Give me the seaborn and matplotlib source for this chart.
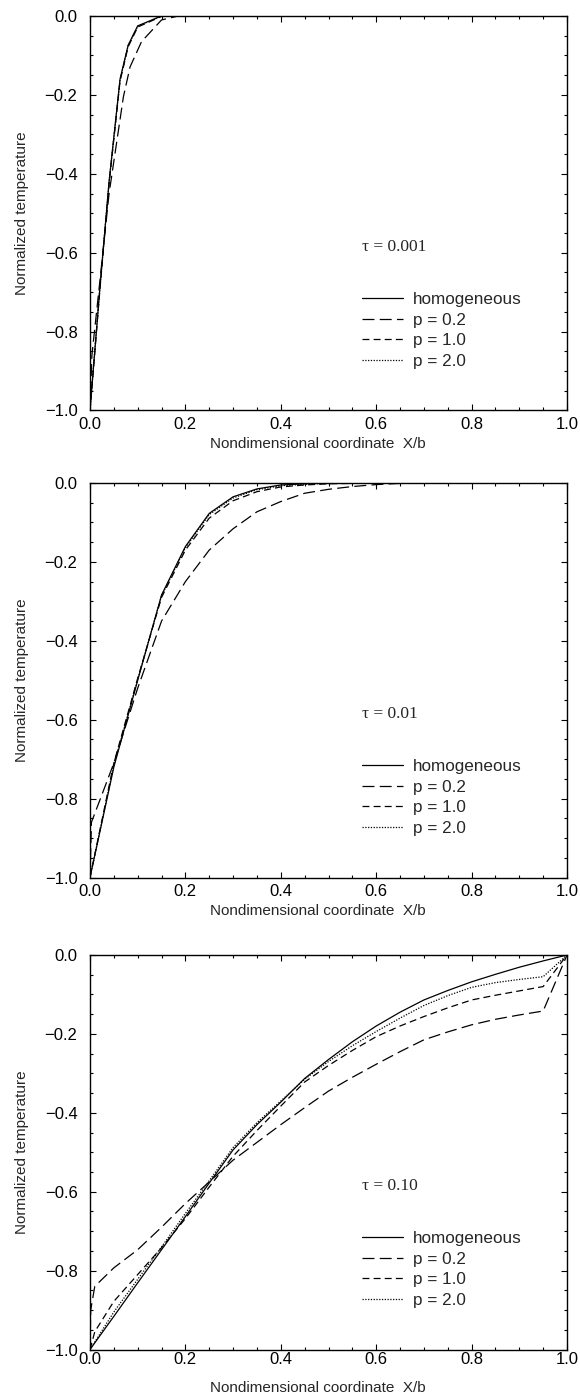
import matplotlib
matplotlib.use("Agg")
import matplotlib.pyplot as plt
import seaborn as sns
import numpy as np
from matplotlib.ticker import MultipleLocator, FuncFormatter

# ---------------- data ----------------
series_labels = ["homogeneous", "p = 0.2", "p = 1.0", "p = 2.0"]
tau_labels = ["\u03c4 = 0.001", "\u03c4 = 0.01", "\u03c4 = 0.10"]

# Panel 1: tau = 0.001
p1_hom_x = [0.0, 0.02, 0.04, 0.063, 0.08, 0.10, 0.15, 0.2, 1.0]
p1_hom_y = [-1.0, -0.70, -0.42, -0.16, -0.074, -0.025, 0.0, 0.0, 0.0]
p1_p02_x = [0.0, 0.004, 0.02, 0.04, 0.07, 0.084, 0.108, 0.15, 0.185, 1.0]
p1_p02_y = [-1.0, -0.86, -0.68, -0.45, -0.205, -0.129, -0.065, -0.010, 0.0, 0.0]
p1_p10_x = [0.0, 0.02, 0.04, 0.063, 0.08, 0.10, 0.15, 0.2, 1.0]
p1_p10_y = [-1.0, -0.705, -0.425, -0.165, -0.078, -0.028, -0.001, 0.0, 0.0]
p1_p20_x = [0.0, 0.02, 0.04, 0.063, 0.08, 0.10, 0.15, 0.2, 1.0]
p1_p20_y = [-1.0, -0.70, -0.42, -0.162, -0.075, -0.026, 0.0, 0.0, 0.0]

# Panel 2: tau = 0.01
p2_hom_x = [0.0, 0.05, 0.10, 0.15, 0.20, 0.25, 0.30, 0.35, 0.40, 0.45, 0.50, 0.60, 1.0]
p2_hom_y = [-1.0, -0.72, -0.50, -0.284, -0.161, -0.077, -0.035, -0.015, -0.005, -0.002, 0.0, 0.0, 0.0]
p2_p02_x = [0.0, 0.003, 0.025, 0.05, 0.10, 0.15, 0.20, 0.25, 0.30, 0.35, 0.40, 0.45, 0.50, 0.55, 0.60, 0.65, 0.70, 1.0]
p2_p02_y = [-1.0, -0.86, -0.79, -0.71, -0.52, -0.35, -0.25, -0.17, -0.116, -0.073, -0.047, -0.026, -0.016, -0.009, -0.004, -0.001, 0.0, 0.0]
p2_p10_x = [0.0, 0.05, 0.10, 0.15, 0.20, 0.25, 0.30, 0.35, 0.40, 0.45, 0.50, 0.60, 1.0]
p2_p10_y = [-1.0, -0.71, -0.495, -0.29, -0.170, -0.089, -0.045, -0.022, -0.010, -0.005, -0.002, 0.0, 0.0]
p2_p20_x = [0.0, 0.05, 0.10, 0.15, 0.20, 0.25, 0.30, 0.35, 0.40, 0.45, 0.50, 0.60, 1.0]
p2_p20_y = [-1.0, -0.715, -0.498, -0.286, -0.164, -0.080, -0.038, -0.017, -0.007, -0.003, -0.001, 0.0, 0.0]

# Panel 3: tau = 0.10
p3_hom_x = [0.0, 0.05, 0.10, 0.15, 0.20, 0.25, 0.30, 0.35, 0.40, 0.45, 0.50, 0.55, 0.60, 0.65, 0.70, 0.75, 0.80, 0.85, 0.90, 0.95, 1.0]
p3_hom_y = [-1.0, -0.916, -0.831, -0.747, -0.663, -0.578, -0.494, -0.430, -0.373, -0.313, -0.265, -0.220, -0.180, -0.145, -0.114, -0.090, -0.068, -0.049, -0.031, -0.015, 0.0]
p3_p02_x = [0.0, 0.0015, 0.01, 0.05, 0.10, 0.15, 0.20, 0.25, 0.30, 0.35, 0.40, 0.45, 0.50, 0.55, 0.60, 0.65, 0.70, 0.75, 0.80, 0.85, 0.90, 0.95, 1.0]
p3_p02_y = [-1.0, -0.90, -0.84, -0.793, -0.747, -0.690, -0.630, -0.575, -0.520, -0.475, -0.430, -0.387, -0.345, -0.310, -0.277, -0.245, -0.215, -0.195, -0.177, -0.163, -0.152, -0.142, 0.0]
p3_p10_x = [0.0, 0.01, 0.05, 0.10, 0.15, 0.20, 0.25, 0.30, 0.35, 0.40, 0.45, 0.50, 0.55, 0.60, 0.65, 0.70, 0.75, 0.80, 0.85, 0.90, 0.95, 1.0]
p3_p10_y = [-1.0, -0.955, -0.878, -0.810, -0.742, -0.668, -0.588, -0.510, -0.445, -0.383, -0.322, -0.280, -0.242, -0.207, -0.180, -0.156, -0.134, -0.114, -0.102, -0.091, -0.080, 0.0]
p3_p20_x = [0.0, 0.05, 0.10, 0.15, 0.20, 0.25, 0.30, 0.35, 0.40, 0.45, 0.50, 0.55, 0.60, 0.65, 0.70, 0.75, 0.80, 0.85, 0.90, 0.95, 1.0]
p3_p20_y = [-1.0, -0.905, -0.822, -0.740, -0.655, -0.572, -0.488, -0.425, -0.370, -0.315, -0.270, -0.230, -0.194, -0.160, -0.128, -0.103, -0.082, -0.070, -0.062, -0.055, 0.0]

panels = [
    [(p1_hom_x, p1_hom_y), (p1_p02_x, p1_p02_y), (p1_p10_x, p1_p10_y), (p1_p20_x, p1_p20_y)],
    [(p2_hom_x, p2_hom_y), (p2_p02_x, p2_p02_y), (p2_p10_x, p2_p10_y), (p2_p20_x, p2_p20_y)],
    [(p3_hom_x, p3_hom_y), (p3_p02_x, p3_p02_y), (p3_p10_x, p3_p10_y), (p3_p20_x, p3_p20_y)],
]

# ---------------- style ----------------
sns.set_theme(style="ticks")
plt.rcParams["font.family"] = ["Liberation Sans", "DejaVu Sans"]
plt.rcParams["lines.scale_dashes"] = False

line_styles = [
    "-",
    (0, (8.6, 3.8)),
    (0, (5.0, 3.0)),
    (0, (0.9, 1.1)),
]

fmt = FuncFormatter(lambda v, pos: f"{v:.1f}".replace("-", "\u2212"))

fig = plt.figure(figsize=(5.8, 13.98), dpi=100)
ax_left = 90 / 580
ax_width = 477 / 580
tops = [16, 483, 955]
ax_h = 394.5

for i, (series, tau) in enumerate(zip(panels, tau_labels)):
    top = tops[i]
    bottom_frac = 1 - (top + ax_h) / 1398
    ax = fig.add_axes([ax_left, bottom_frac, ax_width, ax_h / 1398])
    for (xs, ys), lab, ls in zip(series, series_labels, line_styles):
        sns.lineplot(x=np.array(xs), y=np.array(ys), ax=ax, color="black",
                     linewidth=0.9, linestyle=ls, label=lab, sort=False,
                     estimator=None)
    ax.set_xlim(0, 1.0)
    ax.set_ylim(-1.0, 0.0)
    ax.xaxis.set_major_locator(MultipleLocator(0.2))
    ax.xaxis.set_minor_locator(MultipleLocator(0.05))
    ax.yaxis.set_major_locator(MultipleLocator(0.2))
    ax.yaxis.set_minor_locator(MultipleLocator(0.05))
    ax.xaxis.set_major_formatter(fmt)
    ax.yaxis.set_major_formatter(fmt)
    ax.tick_params(which="both", direction="in", top=True, right=True,
                   width=0.8, colors="black", labelsize=12)
    ax.tick_params(which="major", length=4.3)
    ax.tick_params(which="minor", length=2.2)
    ax.tick_params(axis="y", pad=9)
    ax.tick_params(axis="x", pad=5 if i < 2 else 2)
    for sp in ax.spines.values():
        sp.set_linewidth(1.0)
        sp.set_color("black")
    ax.set_xlabel("Nondimensional coordinate  X/b", fontsize=11,
                  labelpad=3 if i < 2 else 10, x=0.477)
    ax.set_ylabel("Normalized temperature", fontsize=11, labelpad=11)
    ax.text(0.57, -0.585, tau, fontsize=12.5, family=["Liberation Serif", "DejaVu Serif"],
            ha="left", va="center")
    ax.legend(loc="upper left", bbox_to_anchor=(0.57, 0.300), frameon=False,
              fontsize=12.3, handlelength=2.4, handletextpad=0.6, labelspacing=0.33,
              borderpad=0, borderaxespad=0)

fig.savefig("out.png", dpi=100)
